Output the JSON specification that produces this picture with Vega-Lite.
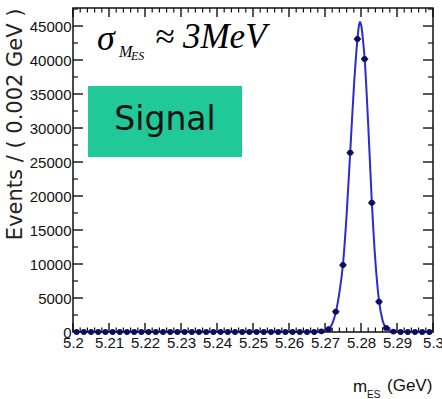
{
  "$schema": "https://vega.github.io/schema/vega-lite/v6.json",
  "width": 360,
  "height": 324,
  "autosize": {"type": "none"},
  "padding": {"left": 73, "top": 8, "right": 9, "bottom": 67},
  "background": "white",
  "config": {
    "view": {"stroke": "#111", "strokeWidth": 1.5},
    "axis": {"domain": false, "grid": false, "labelFont": "Liberation Sans", "labelFontSize": 15, "labelColor": "#111", "labelFlush": false, "labelOverlap": false}
  },
  "datasets": {
    "xmajor": [{"v": 5.2}, {"v": 5.21}, {"v": 5.22}, {"v": 5.23}, {"v": 5.24}, {"v": 5.25}, {"v": 5.26}, {"v": 5.27}, {"v": 5.28}, {"v": 5.29}, {"v": 5.3}],
    "xminor": [{"v": 5.202}, {"v": 5.204}, {"v": 5.206}, {"v": 5.208}, {"v": 5.212}, {"v": 5.214}, {"v": 5.216}, {"v": 5.218}, {"v": 5.222}, {"v": 5.224}, {"v": 5.226}, {"v": 5.228}, {"v": 5.232}, {"v": 5.234}, {"v": 5.236}, {"v": 5.238}, {"v": 5.242}, {"v": 5.244}, {"v": 5.246}, {"v": 5.248}, {"v": 5.252}, {"v": 5.254}, {"v": 5.256}, {"v": 5.258}, {"v": 5.262}, {"v": 5.264}, {"v": 5.266}, {"v": 5.268}, {"v": 5.272}, {"v": 5.274}, {"v": 5.276}, {"v": 5.278}, {"v": 5.282}, {"v": 5.284}, {"v": 5.286}, {"v": 5.288}, {"v": 5.292}, {"v": 5.294}, {"v": 5.296}, {"v": 5.298}],
    "ymajor": [{"v": 0}, {"v": 5000}, {"v": 10000}, {"v": 15000}, {"v": 20000}, {"v": 25000}, {"v": 30000}, {"v": 35000}, {"v": 40000}, {"v": 45000}],
    "yminor": [{"v": 2500}, {"v": 7500}, {"v": 12500}, {"v": 17500}, {"v": 22500}, {"v": 27500}, {"v": 32500}, {"v": 37500}, {"v": 42500}, {"v": 47500}],
    "bins": [
      {"m": 5.201, "lo": 5.200, "hi": 5.202, "n": 0},
      {"m": 5.203, "lo": 5.202, "hi": 5.204, "n": 0},
      {"m": 5.205, "lo": 5.204, "hi": 5.206, "n": 0},
      {"m": 5.207, "lo": 5.206, "hi": 5.208, "n": 0},
      {"m": 5.209, "lo": 5.208, "hi": 5.210, "n": 0},
      {"m": 5.211, "lo": 5.210, "hi": 5.212, "n": 0},
      {"m": 5.213, "lo": 5.212, "hi": 5.214, "n": 0},
      {"m": 5.215, "lo": 5.214, "hi": 5.216, "n": 0},
      {"m": 5.217, "lo": 5.216, "hi": 5.218, "n": 0},
      {"m": 5.219, "lo": 5.218, "hi": 5.220, "n": 0},
      {"m": 5.221, "lo": 5.220, "hi": 5.222, "n": 0},
      {"m": 5.223, "lo": 5.222, "hi": 5.224, "n": 0},
      {"m": 5.225, "lo": 5.224, "hi": 5.226, "n": 0},
      {"m": 5.227, "lo": 5.226, "hi": 5.228, "n": 0},
      {"m": 5.229, "lo": 5.228, "hi": 5.230, "n": 0},
      {"m": 5.231, "lo": 5.230, "hi": 5.232, "n": 0},
      {"m": 5.233, "lo": 5.232, "hi": 5.234, "n": 0},
      {"m": 5.235, "lo": 5.234, "hi": 5.236, "n": 0},
      {"m": 5.237, "lo": 5.236, "hi": 5.238, "n": 0},
      {"m": 5.239, "lo": 5.238, "hi": 5.240, "n": 0},
      {"m": 5.241, "lo": 5.240, "hi": 5.242, "n": 0},
      {"m": 5.243, "lo": 5.242, "hi": 5.244, "n": 0},
      {"m": 5.245, "lo": 5.244, "hi": 5.246, "n": 0},
      {"m": 5.247, "lo": 5.246, "hi": 5.248, "n": 0},
      {"m": 5.249, "lo": 5.248, "hi": 5.250, "n": 0},
      {"m": 5.251, "lo": 5.250, "hi": 5.252, "n": 0},
      {"m": 5.253, "lo": 5.252, "hi": 5.254, "n": 0},
      {"m": 5.255, "lo": 5.254, "hi": 5.256, "n": 0},
      {"m": 5.257, "lo": 5.256, "hi": 5.258, "n": 0},
      {"m": 5.259, "lo": 5.258, "hi": 5.260, "n": 0},
      {"m": 5.261, "lo": 5.260, "hi": 5.262, "n": 0},
      {"m": 5.263, "lo": 5.262, "hi": 5.264, "n": 0},
      {"m": 5.265, "lo": 5.264, "hi": 5.266, "n": 0},
      {"m": 5.267, "lo": 5.266, "hi": 5.268, "n": 0},
      {"m": 5.269, "lo": 5.268, "hi": 5.270, "n": 100},
      {"m": 5.271, "lo": 5.270, "hi": 5.272, "n": 400},
      {"m": 5.273, "lo": 5.272, "hi": 5.274, "n": 2990},
      {"m": 5.275, "lo": 5.274, "hi": 5.276, "n": 9850},
      {"m": 5.277, "lo": 5.276, "hi": 5.278, "n": 26370},
      {"m": 5.279, "lo": 5.278, "hi": 5.280, "n": 43090},
      {"m": 5.281, "lo": 5.280, "hi": 5.282, "n": 40150},
      {"m": 5.283, "lo": 5.282, "hi": 5.284, "n": 19010},
      {"m": 5.285, "lo": 5.284, "hi": 5.286, "n": 4460},
      {"m": 5.287, "lo": 5.286, "hi": 5.288, "n": 600},
      {"m": 5.289, "lo": 5.288, "hi": 5.290, "n": 60},
      {"m": 5.291, "lo": 5.290, "hi": 5.292, "n": 0},
      {"m": 5.293, "lo": 5.292, "hi": 5.294, "n": 0},
      {"m": 5.295, "lo": 5.294, "hi": 5.296, "n": 0},
      {"m": 5.297, "lo": 5.296, "hi": 5.298, "n": 0},
      {"m": 5.299, "lo": 5.298, "hi": 5.300, "n": 0}
    ],
    "curve": [
      {"m": 5.200, "n": 0}, {"m": 5.266, "n": 0}, {"m": 5.268, "n": 40}, {"m": 5.270, "n": 200},
      {"m": 5.271, "n": 450}, {"m": 5.272, "n": 1200}, {"m": 5.273, "n": 2900}, {"m": 5.274, "n": 5800},
      {"m": 5.275, "n": 10000}, {"m": 5.276, "n": 17200}, {"m": 5.277, "n": 26400}, {"m": 5.278, "n": 35800},
      {"m": 5.279, "n": 43000}, {"m": 5.2794, "n": 45000}, {"m": 5.2797, "n": 45600}, {"m": 5.2801, "n": 45000},
      {"m": 5.2806, "n": 42700}, {"m": 5.281, "n": 40300}, {"m": 5.282, "n": 30500}, {"m": 5.283, "n": 19200},
      {"m": 5.284, "n": 10400}, {"m": 5.285, "n": 4600}, {"m": 5.286, "n": 1700}, {"m": 5.287, "n": 550},
      {"m": 5.288, "n": 150}, {"m": 5.289, "n": 40}, {"m": 5.291, "n": 0}, {"m": 5.300, "n": 0}
    ]
  },
  "layer": [
    {
      "data": {"values": [{"x1": 5.204167, "x2": 5.246944, "y1": 25735, "y2": 36176}]},
      "mark": {"type": "rect", "fill": "#20c997"},
      "encoding": {
        "x": {"field": "x1", "type": "quantitative", "scale": {"domain": [5.2, 5.3], "nice": false, "zero": false},
          "axis": {"orient": "bottom", "values": [5.2, 5.21, 5.22, 5.23, 5.24, 5.25, 5.26, 5.27, 5.28, 5.29, 5.3], "format": "~g", "ticks": false, "labelPadding": 3, "title": null}},
        "x2": {"field": "x2"},
        "y": {"field": "y1", "type": "quantitative", "scale": {"domain": [0, 47650], "nice": false, "zero": true},
          "axis": {"orient": "left", "values": [0, 5000, 10000, 15000, 20000, 25000, 30000, 35000, 40000, 45000], "format": "d", "ticks": false, "labelPadding": 2,
            "title": "Events / ( 0.002 GeV )", "titleFont": "DejaVu Sans", "titleFontSize": 21, "titleFontWeight": "normal", "titleColor": "#222", "titleAnchor": "end", "titlePadding": 4}},
        "y2": {"field": "y2"}
      }
    },
    {
      "data": {"name": "xmajor"},
      "mark": {"type": "tick", "orient": "vertical", "size": 9, "thickness": 1.4, "color": "#111", "opacity": 1},
      "encoding": {"x": {"field": "v", "type": "quantitative", "axis": null}, "y": {"datum": 46988, "type": "quantitative", "axis": null}}
    },
    {
      "data": {"name": "xmajor"},
      "mark": {"type": "tick", "orient": "vertical", "size": 9, "thickness": 1.4, "color": "#111", "opacity": 1},
      "encoding": {"x": {"field": "v", "type": "quantitative", "axis": null}, "y": {"datum": 662, "type": "quantitative", "axis": null}}
    },
    {
      "data": {"name": "xminor"},
      "mark": {"type": "tick", "orient": "vertical", "size": 4.5, "thickness": 1.2, "color": "#111", "opacity": 1},
      "encoding": {"x": {"field": "v", "type": "quantitative", "axis": null}, "y": {"datum": 47319, "type": "quantitative", "axis": null}}
    },
    {
      "data": {"name": "xminor"},
      "mark": {"type": "tick", "orient": "vertical", "size": 4.5, "thickness": 1.2, "color": "#111", "opacity": 1},
      "encoding": {"x": {"field": "v", "type": "quantitative", "axis": null}, "y": {"datum": 331, "type": "quantitative", "axis": null}}
    },
    {
      "data": {"name": "ymajor"},
      "mark": {"type": "tick", "orient": "horizontal", "size": 10, "thickness": 1.4, "color": "#111", "opacity": 1},
      "encoding": {"y": {"field": "v", "type": "quantitative", "axis": null}, "x": {"datum": 5.201389, "type": "quantitative", "axis": null}}
    },
    {
      "data": {"name": "ymajor"},
      "mark": {"type": "tick", "orient": "horizontal", "size": 10, "thickness": 1.4, "color": "#111", "opacity": 1},
      "encoding": {"y": {"field": "v", "type": "quantitative", "axis": null}, "x": {"datum": 5.298611, "type": "quantitative", "axis": null}}
    },
    {
      "data": {"name": "yminor"},
      "mark": {"type": "tick", "orient": "horizontal", "size": 5, "thickness": 1.2, "color": "#111", "opacity": 1},
      "encoding": {"y": {"field": "v", "type": "quantitative", "axis": null}, "x": {"datum": 5.200694, "type": "quantitative", "axis": null}}
    },
    {
      "data": {"name": "yminor"},
      "mark": {"type": "tick", "orient": "horizontal", "size": 5, "thickness": 1.2, "color": "#111", "opacity": 1},
      "encoding": {"y": {"field": "v", "type": "quantitative", "axis": null}, "x": {"datum": 5.299306, "type": "quantitative", "axis": null}}
    },
    {
      "data": {"name": "curve"},
      "mark": {"type": "line", "color": "#2b2bd0", "strokeWidth": 2, "interpolate": "monotone"},
      "encoding": {
        "x": {"field": "m", "type": "quantitative", "axis": null},
        "y": {"field": "n", "type": "quantitative", "axis": null}
      }
    },
    {
      "data": {"name": "bins"},
      "mark": {"type": "rule", "color": "#14146a", "strokeWidth": 1.6},
      "encoding": {
        "x": {"field": "lo", "type": "quantitative", "axis": null},
        "x2": {"field": "hi"},
        "y": {"field": "n", "type": "quantitative", "axis": null}
      }
    },
    {
      "data": {"name": "bins"},
      "mark": {"type": "point", "filled": true, "shape": "circle", "size": 34, "color": "#0d0d5e", "opacity": 1},
      "encoding": {
        "x": {"field": "m", "type": "quantitative", "axis": null},
        "y": {"field": "n", "type": "quantitative", "axis": null}
      }
    },
    {
      "data": {"values": [{"x": 5.22556, "y": 29706, "t": "Signal"}]},
      "mark": {"type": "text", "font": "DejaVu Sans", "fontSize": 33, "color": "#111", "align": "center", "baseline": "alphabetic"},
      "encoding": {
        "x": {"field": "x", "type": "quantitative", "axis": null},
        "y": {"field": "y", "type": "quantitative", "axis": null},
        "text": {"field": "t"}
      }
    },
    {
      "data": {"values": [{"x": 5.20667, "y": 41471, "t": "σ"}]},
      "mark": {"type": "text", "font": "Liberation Serif", "fontStyle": "italic", "fontSize": 36, "color": "#000", "align": "left", "baseline": "alphabetic"},
      "encoding": {
        "x": {"field": "x", "type": "quantitative", "axis": null},
        "y": {"field": "y", "type": "quantitative", "axis": null},
        "text": {"field": "t"}
      }
    },
    {
      "data": {"values": [{"x": 5.22278, "y": 41765, "t": "≈ 3MeV"}]},
      "mark": {"type": "text", "font": "Liberation Serif", "fontStyle": "italic", "fontSize": 35, "color": "#000", "align": "left", "baseline": "alphabetic"},
      "encoding": {
        "x": {"field": "x", "type": "quantitative", "axis": null},
        "y": {"field": "y", "type": "quantitative", "axis": null},
        "text": {"field": "t"}
      }
    },
    {
      "data": {"values": [{"x": 5.21278, "y": 40441, "t": "M"}]},
      "mark": {"type": "text", "font": "Liberation Serif", "fontStyle": "italic", "fontSize": 16, "color": "#000", "align": "left", "baseline": "alphabetic"},
      "encoding": {
        "x": {"field": "x", "type": "quantitative", "axis": null},
        "y": {"field": "y", "type": "quantitative", "axis": null},
        "text": {"field": "t"}
      }
    },
    {
      "data": {"values": [{"x": 5.21611, "y": 40000, "t": "ES"}]},
      "mark": {"type": "text", "font": "Liberation Serif", "fontStyle": "italic", "fontSize": 12, "color": "#000", "align": "left", "baseline": "alphabetic"},
      "encoding": {
        "x": {"field": "x", "type": "quantitative", "axis": null},
        "y": {"field": "y", "type": "quantitative", "axis": null},
        "text": {"field": "t"}
      }
    },
    {
      "data": {"values": [{"x": 5.27778, "y": -8824, "t": "m"}, {"x": 5.28722, "y": -8676, "t": "(GeV)"}]},
      "mark": {"type": "text", "font": "Liberation Sans", "fontSize": 17, "color": "#111", "align": "left", "baseline": "alphabetic"},
      "encoding": {
        "x": {"field": "x", "type": "quantitative", "axis": null},
        "y": {"field": "y", "type": "quantitative", "axis": null},
        "text": {"field": "t"}
      }
    },
    {
      "data": {"values": [{"x": 5.28167, "y": -9706, "t": "ES"}]},
      "mark": {"type": "text", "font": "Liberation Sans", "fontSize": 10, "color": "#111", "align": "left", "baseline": "alphabetic"},
      "encoding": {
        "x": {"field": "x", "type": "quantitative", "axis": null},
        "y": {"field": "y", "type": "quantitative", "axis": null},
        "text": {"field": "t"}
      }
    }
  ],
  "resolve": {"axis": {"x": "independent", "y": "independent"}}
}
